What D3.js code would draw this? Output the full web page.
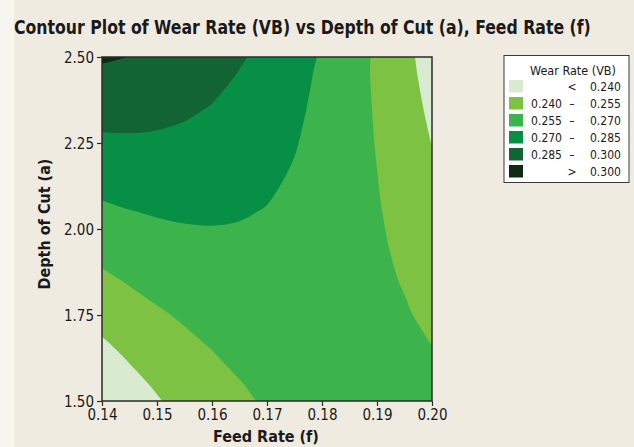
<!DOCTYPE html>
<html>
<head>
<meta charset="utf-8">
<script src="https://cdn.jsdelivr.net/npm/d3@7"></script>
<style>
  body { margin: 0; background: #efebe1; }
  text { font-family: "DejaVu Sans Condensed", "DejaVu Sans", sans-serif; fill: #1a1a1a; }
</style>
</head>
<body>
<svg id="chart"></svg>
<script>
// grid of wear rate values (rows top -> bottom)
const feedRate = [0.135, 0.140, 0.145, 0.150, 0.155, 0.160, 0.165, 0.170, 0.175, 0.180, 0.185, 0.190, 0.195, 0.200, 0.205];
const depthOfCut = [2.55, 2.45, 2.35, 2.25, 2.15, 2.05, 1.95, 1.85, 1.75, 1.65, 1.55, 1.45];
const wearRate = [
  [0.3066, 0.3052, 0.3031, 0.3004, 0.2970, 0.2928, 0.2879, 0.2823, 0.2759, 0.2688, 0.2609, 0.2523, 0.2428, 0.2326, 0.2216],
  [0.2983, 0.2977, 0.2965, 0.2946, 0.2919, 0.2886, 0.2845, 0.2797, 0.2742, 0.2679, 0.2608, 0.2530, 0.2444, 0.2349, 0.2247],
  [0.2899, 0.2902, 0.2898, 0.2887, 0.2869, 0.2844, 0.2811, 0.2771, 0.2724, 0.2669, 0.2607, 0.2537, 0.2459, 0.2373, 0.2279],
  [0.2815, 0.2826, 0.2831, 0.2828, 0.2818, 0.2801, 0.2777, 0.2746, 0.2707, 0.2660, 0.2606, 0.2544, 0.2474, 0.2397, 0.2311],
  [0.2731, 0.2751, 0.2763, 0.2769, 0.2768, 0.2759, 0.2743, 0.2720, 0.2689, 0.2651, 0.2606, 0.2552, 0.2491, 0.2421, 0.2344],
  [0.2647, 0.2675, 0.2696, 0.2710, 0.2717, 0.2717, 0.2709, 0.2695, 0.2673, 0.2643, 0.2605, 0.2560, 0.2507, 0.2446, 0.2377],
  [0.2563, 0.2599, 0.2628, 0.2651, 0.2667, 0.2675, 0.2676, 0.2670, 0.2656, 0.2635, 0.2606, 0.2569, 0.2524, 0.2472, 0.2411],
  [0.2478, 0.2523, 0.2561, 0.2592, 0.2616, 0.2633, 0.2643, 0.2645, 0.2640, 0.2627, 0.2606, 0.2578, 0.2542, 0.2498, 0.2446],
  [0.2394, 0.2447, 0.2494, 0.2534, 0.2566, 0.2592, 0.2610, 0.2621, 0.2624, 0.2620, 0.2608, 0.2588, 0.2561, 0.2525, 0.2482],
  [0.2310, 0.2372, 0.2427, 0.2475, 0.2517, 0.2551, 0.2578, 0.2597, 0.2609, 0.2613, 0.2610, 0.2599, 0.2580, 0.2553, 0.2518],
  [0.2226, 0.2297, 0.2361, 0.2418, 0.2468, 0.2510, 0.2546, 0.2574, 0.2595, 0.2608, 0.2613, 0.2611, 0.2601, 0.2582, 0.2556],
  [0.2142, 0.2222, 0.2294, 0.2360, 0.2419, 0.2471, 0.2515, 0.2552, 0.2581, 0.2603, 0.2617, 0.2624, 0.2622, 0.2613, 0.2595]
];
const levels = [0.240, 0.255, 0.270, 0.285, 0.300];
const feedTicks = [0.14, 0.15, 0.16, 0.17, 0.18, 0.19, 0.20];
const depthTicks = [1.50, 1.75, 2.00, 2.25, 2.50];
const levelColors = ["#d8eacf", "#7dc242", "#3cb44b", "#078f45", "#126533", "#0d2a13"];

const width = 634, height = 447;
const svg = d3.select("#chart").attr("width", width).attr("height", height);

svg.append("rect").attr("width", width).attr("height", height).attr("fill", "#efebe1");
svg.append("rect").attr("width", 14).attr("height", height).attr("fill", "#f6f5f0");

const x = d3.scaleLinear().domain([0.14, 0.20]).range([102, 432]);
const y = d3.scaleLinear().domain([1.5, 2.5]).range([401, 57]);

// contour grid coords -> data values (samples sit at cell centres)
const nx = feedRate.length, ny = depthOfCut.length;
const gx = d3.scaleLinear().domain([0.5, nx - 0.5]).range([feedRate[0], feedRate[nx - 1]]);
const gy = d3.scaleLinear().domain([0.5, ny - 0.5]).range([depthOfCut[0], depthOfCut[ny - 1]]);

const bands = d3.contours()
  .size([nx, ny])
  .thresholds(levels)(wearRate.flat());

const ringLine = d3.line()
  .x(p => x(gx(p[0])))
  .y(p => y(gy(p[1])))
  .curve(d3.curveCatmullRomClosed.alpha(0.5));

const pathFor = c => c.coordinates
  .map(poly => poly.map(ring => ringLine(ring.slice(0, -1))).join(""))
  .join("");

svg.append("clipPath").attr("id", "plot-clip")
  .append("rect")
  .attr("x", x(0.14)).attr("y", y(2.5))
  .attr("width", x(0.20) - x(0.14)).attr("height", y(1.5) - y(2.5));

const plot = svg.append("g").attr("clip-path", "url(#plot-clip)");

plot.append("rect")
  .attr("x", x(0.14)).attr("y", y(2.5))
  .attr("width", x(0.20) - x(0.14)).attr("height", y(1.5) - y(2.5))
  .attr("fill", levelColors[0]);

plot.selectAll("path.band")
  .data(bands)
  .join("path")
  .attr("class", "band")
  .attr("d", pathFor)
  .attr("fill", (d, i) => levelColors[i + 1]);

// frame
svg.append("rect")
  .attr("x", x(0.14)).attr("y", y(2.5))
  .attr("width", x(0.20) - x(0.14)).attr("height", y(1.5) - y(2.5))
  .attr("fill", "none")
  .attr("stroke", "#2b2b2b")
  .attr("stroke-width", 1.5);

// eixos
const xAxis = svg.append("g")
  .attr("transform", `translate(0,${y(1.5)})`)
  .call(d3.axisBottom(x).tickValues(feedTicks).tickFormat(d3.format(".2f")).tickSize(5).tickPadding(3));

const yAxis = svg.append("g")
  .attr("transform", `translate(${x(0.14)},0)`)
  .call(d3.axisLeft(y).tickValues(depthTicks).tickFormat(d3.format(".2f")).tickSize(5).tickPadding(3));

[xAxis, yAxis].forEach(ax => {
  ax.select(".domain").remove();
  ax.selectAll(".tick line").attr("stroke", "#2b2b2b").attr("stroke-width", 1.2);
  ax.selectAll(".tick text")
    .style("font-family", '"DejaVu Sans Condensed", "DejaVu Sans", sans-serif')
    .style("font-size", "15px")
    .attr("fill", "#1a1a1a");
});
yAxis.selectAll(".tick text").attr("dy", "0.36em");

// titles
const title = svg.append("text")
  .attr("x", 0).attr("y", 0)
  .style("font-size", "19px").style("font-weight", "bold")
  .text("Contour Plot of Wear Rate (VB) vs Depth of Cut (a), Feed Rate (f)");
// squeeze horizontally so it spans the same width as the reference
const titleScale = 577 / title.node().getComputedTextLength();
title.attr("transform", `translate(14,34) scale(${titleScale},1)`);

svg.append("text")
  .attr("x", 266).attr("y", 442)
  .attr("text-anchor", "middle")
  .style("font-size", "16px").style("font-weight", "bold")
  .text("Feed Rate (f)");

svg.append("text")
  .attr("transform", "translate(50,224) rotate(-90)")
  .attr("text-anchor", "middle")
  .style("font-size", "16px").style("font-weight", "bold")
  .text("Depth of Cut (a)");

// legenda
const legend = svg.append("g");
legend.append("rect")
  .attr("x", 504).attr("y", 55.5).attr("width", 125).attr("height", 127)
  .attr("fill", "#ffffff").attr("stroke", "#3a3a3a").attr("stroke-width", 1);

legend.append("text")
  .attr("x", 573).attr("y", 75)
  .attr("text-anchor", "middle")
  .style("font-size", "12.5px")
  .text("Wear Rate (VB)");

const fmt = d3.format(".3f");
const last = levels.length;
const rows = levelColors.map((c, i) => ({
  color: c,
  lo: i === 0 || i === last ? "" : fmt(levels[i - 1]),
  sep: i === 0 ? "<" : i === last ? ">" : "\u2013",
  hi: i === last ? fmt(levels[i - 1]) : fmt(levels[i])
}));

const row = legend.selectAll("g.row")
  .data(rows)
  .join("g")
  .attr("class", "row")
  .attr("transform", (d, i) => `translate(0,${80 + i * 17})`);

row.append("rect")
  .attr("x", 509).attr("y", 0).attr("width", 14).attr("height", 12.5)
  .attr("fill", d => d.color);

row.append("text")
  .attr("x", 562).attr("y", 10.5)
  .attr("text-anchor", "end")
  .style("font-size", "12px")
  .text(d => d.lo);

row.append("text")
  .attr("x", 572).attr("y", 10.5)
  .attr("text-anchor", "middle")
  .style("font-size", "12px")
  .text(d => d.sep);

row.append("text")
  .attr("x", 590).attr("y", 10.5)
  .style("font-size", "12px")
  .text(d => d.hi);
</script>
</body>
</html>
